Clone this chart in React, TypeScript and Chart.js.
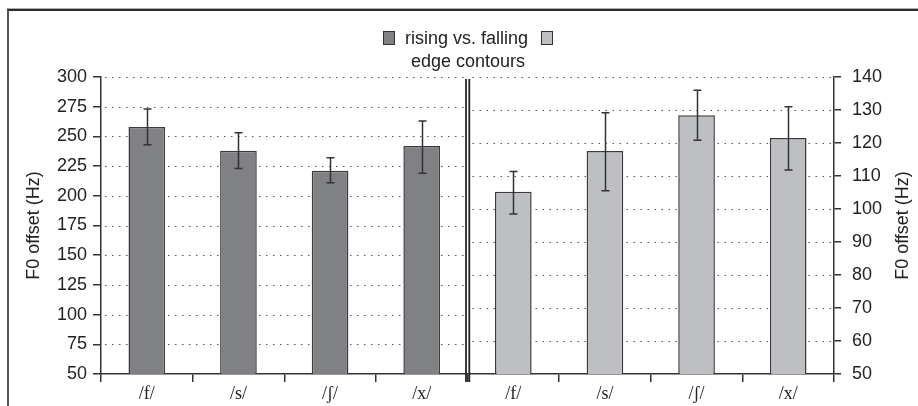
import React, { useEffect, useRef } from 'react';
import { Chart, registerables } from 'chart.js';

Chart.register(...registerables);

const categories = ['/f/', '/s/', '/ʃ/', '/x/', '/f/', '/s/', '/ʃ/', '/x/'];

const risingValues = [258, 238, 221, 242, null, null, null, null];
const risingErrLow = [243, 223, 211, 219, null, null, null, null];
const risingErrHigh = [273, 253, 232, 263, null, null, null, null];

const edgeValues = [null, null, null, null, 105.2, 117.6, 128.4, 121.5];
const edgeErrLow = [null, null, null, null, 98.5, 105.5, 120.8, 111.8];
const edgeErrHigh = [null, null, null, null, 111.4, 129.2, 136.0, 131.0];

const leftTicks = [50, 75, 100, 125, 150, 175, 200, 225, 250, 275, 300];
const rightTicks = [50, 60, 70, 80, 90, 100, 110, 120, 130, 140];

const legendLine1 = 'rising vs. falling';
const legendLine2 = 'edge contours';
const axisTitle = 'F0 offset (Hz)';

const SANS = '"Liberation Sans", Arial, Helvetica, sans-serif';
const SERIF = '"Liberation Serif", "Times New Roman", serif';
const INK = '#333333';

const panelPlugin = {
  id: 'panelPlugin',
  beforeDatasetsDraw(chart: any) {
    const { ctx, chartArea } = chart;
    const x = chart.scales.x;
    const y = chart.scales.y;
    const y1 = chart.scales.y1;
    const divX = (x.getPixelForValue(3) + x.getPixelForValue(4)) / 2;
    ctx.save();
    ctx.strokeStyle = '#555555';
    ctx.lineWidth = 1;
    ctx.setLineDash([1.5, 5.5]);
    leftTicks.slice(1).forEach((v) => {
      const py = Math.round(y.getPixelForValue(v)) + 0.5;
      ctx.beginPath();
      ctx.moveTo(chartArea.left + 4, py);
      ctx.lineTo(divX - 3, py);
      ctx.stroke();
    });
    rightTicks.slice(1).forEach((v) => {
      const py = Math.round(y1.getPixelForValue(v)) + 0.5;
      ctx.beginPath();
      ctx.moveTo(divX + 5, py);
      ctx.lineTo(chartArea.right - 2, py);
      ctx.stroke();
    });
    ctx.restore();
  },
  afterDatasetsDraw(chart: any) {
    const { ctx, chartArea } = chart;
    const x = chart.scales.x;
    const divX = (x.getPixelForValue(3) + x.getPixelForValue(4)) / 2;
    ctx.save();
    const sets = [
      { idx: 0, scale: chart.scales.y, lo: risingErrLow, hi: risingErrHigh },
      { idx: 1, scale: chart.scales.y1, lo: edgeErrLow, hi: edgeErrHigh },
    ];
    ctx.strokeStyle = INK;
    ctx.lineWidth = 1.5;
    ctx.setLineDash([]);
    sets.forEach((s) => {
      const meta = chart.getDatasetMeta(s.idx);
      meta.data.forEach((el: any, i: number) => {
        const lo = s.lo[i];
        const hi = s.hi[i];
        if (lo == null || hi == null) return;
        const cx = Math.round(el.x) + 0.5;
        const yl = s.scale.getPixelForValue(lo);
        const yh = s.scale.getPixelForValue(hi);
        ctx.beginPath();
        ctx.moveTo(cx, yl);
        ctx.lineTo(cx, yh);
        ctx.moveTo(cx - 4, yl);
        ctx.lineTo(cx + 4, yl);
        ctx.moveTo(cx - 4, yh);
        ctx.lineTo(cx + 4, yh);
        ctx.stroke();
      });
    });
    // double divider
    ctx.strokeStyle = '#222222';
    ctx.lineWidth = 1.8;
    [divX - 1.5, divX + 1.8].forEach((lx) => {
      ctx.beginPath();
      ctx.moveTo(lx, chartArea.top + 2);
      ctx.lineTo(lx, chartArea.bottom + 8);
      ctx.stroke();
    });
    ctx.restore();
  },
  afterDraw(chart: any) {
    const { ctx, chartArea } = chart;
    ctx.save();
    ctx.fillStyle = '#222222';
    ctx.font = '18px ' + SANS;
    ctx.textAlign = 'center';
    ctx.textBaseline = 'middle';
    ctx.translate(903, (chartArea.top + chartArea.bottom) / 2);
    ctx.rotate(-Math.PI / 2);
    ctx.fillText(axisTitle, 0, 0);
    ctx.restore();
  },
};

export default function App() {
  const canvasRef = useRef<HTMLCanvasElement | null>(null);

  useEffect(() => {
    const canvas = canvasRef.current;
    if (!canvas) return;
    const chart = new Chart(canvas, {
      type: 'bar',
      data: {
        labels: categories,
        datasets: [
          {
            label: 'rising vs. falling',
            data: risingValues as any,
            yAxisID: 'y',
            backgroundColor: '#808185',
            borderColor: '#3a3a3a',
            borderWidth: 1.5,
            barPercentage: 0.4,
            categoryPercentage: 1,
          },
          {
            label: 'edge contours',
            data: edgeValues as any,
            yAxisID: 'y1',
            backgroundColor: '#bebfc3',
            borderColor: '#3a3a3a',
            borderWidth: 1.5,
            barPercentage: 0.4,
            categoryPercentage: 1,
          },
        ],
      },
      options: {
        responsive: false,
        animation: false,
        events: [],
        grouped: false,
        layout: { padding: { top: 77, left: 0, right: 0, bottom: 0 } },
        plugins: {
          legend: { display: false },
          tooltip: { enabled: false },
          title: { display: false },
        },
        scales: {
          x: {
            type: 'category',
            offset: true,
            grid: {
              offset: true,
              drawOnChartArea: false,
              drawTicks: true,
              tickLength: 8,
              color: INK,
              lineWidth: 1.5,
            },
            border: { display: true, color: INK, width: 1.5 },
            ticks: {
              font: { family: SERIF, size: 18 },
              color: '#222222',
              padding: 1,
              maxRotation: 0,
              autoSkip: false,
            },
            afterFit: (s: any) => {
              s.height = 32;
            },
          },
          y: {
            type: 'linear',
            position: 'left',
            min: 50,
            max: 300,
            afterBuildTicks: (s: any) => {
              s.ticks = leftTicks.map((v) => ({ value: v }));
            },
            grid: {
              drawOnChartArea: false,
              drawTicks: true,
              tickLength: 8,
              color: INK,
              lineWidth: 1.5,
            },
            border: { display: true, color: INK, width: 1.5 },
            ticks: {
              font: { family: SANS, size: 18 },
              color: '#222222',
              padding: 6,
            },
            title: {
              display: true,
              text: axisTitle,
              font: { family: SANS, size: 18 },
              color: '#222222',
              padding: { top: 23, bottom: 0 },
            },
            afterFit: (s: any) => {
              s.width = 101;
            },
          },
          y1: {
            type: 'linear',
            position: 'right',
            min: 50,
            max: 140,
            afterBuildTicks: (s: any) => {
              s.ticks = rightTicks.map((v) => ({ value: v }));
            },
            grid: {
              drawOnChartArea: false,
              drawTicks: true,
              tickLength: 7,
              color: INK,
              lineWidth: 1.5,
            },
            border: { display: true, color: INK, width: 1.5 },
            ticks: {
              font: { family: SANS, size: 18 },
              color: '#222222',
              padding: 11,
            },
            title: { display: false },
            afterFit: (s: any) => {
              s.width = 84;
            },
          },
        },
      } as any,
      plugins: [panelPlugin],
    });
    return () => chart.destroy();
  }, []);

  const square = (bg: string): React.CSSProperties => ({
    display: 'inline-block',
    width: 10,
    height: 12,
    background: bg,
    border: '1px solid #333',
    verticalAlign: 'middle',
  });

  return (
    <div
      style={{
        position: 'fixed',
        left: 0,
        top: 0,
        width: 918,
        height: 406,
        overflow: 'hidden',
        background: '#ffffff',
      }}
    >
      <div
        style={{
          position: 'absolute',
          left: 7,
          top: 9,
          width: 940,
          height: 420,
          borderTop: '2px solid #2b2b2b',
          borderLeft: '2px solid #555555',
          boxShadow: '0 -1px 0 #b0b0b0',
        }}
      />
      <canvas
        ref={canvasRef}
        width={918}
        height={406}
        style={{ position: 'absolute', left: 0, top: 0, width: 918, height: 406 }}
      />
      <div
        style={{
          position: 'absolute',
          left: 268,
          width: 400,
          top: 26,
          textAlign: 'center',
          fontFamily: SANS,
          fontSize: 18,
          color: '#222222',
          lineHeight: '22px',
          whiteSpace: 'nowrap',
        }}
      >
        <div>
          <span style={square('#808185')} />
          <span style={{ margin: '0 13px 0 10px', verticalAlign: 'middle' }}>{legendLine1}</span>
          <span style={square('#bebfc3')} />
        </div>
        <div style={{ marginTop: 1 }}>{legendLine2}</div>
      </div>
    </div>
  );
}
